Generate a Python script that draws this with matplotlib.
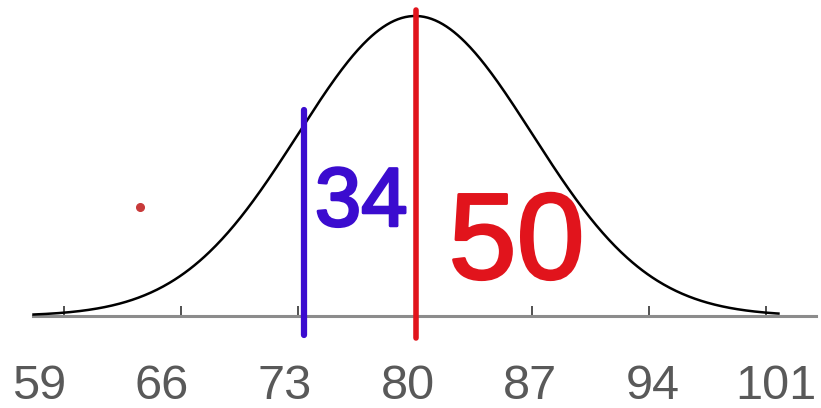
import numpy as np
import matplotlib
matplotlib.use("Agg")
import matplotlib.pyplot as plt
import matplotlib.patheffects as pe

# Normal distribution parameters and the scores marked on the axis
mean = 80
sd = 7
tick_values = [59, 66, 73, 80, 87, 94, 101]
tick_labels = ["59", "66", "73", "80", "87", "94", "101"]

curve_start, curve_end = 57.1, 101.8
axis_start, axis_end = 57.14, 103.97

blue_score = 73.35
blue_span = (-0.0036, 0.0391)
red_score = 80.05
red_span = (-0.0042, 0.0581)

blue_label = "34"
red_label = "50"
dot_point = (63.55, 0.0207)

plt.rcParams["font.family"] = ["Liberation Sans", "DejaVu Sans"]

fig = plt.figure(figsize=(8.21, 4.08), dpi=100)
ax = fig.add_axes([0, 0, 1, 1])
ax.set_xlim(55.17, 104.27)
ax.set_ylim(-0.01748, 0.06003)

# Bell curve
x = np.linspace(curve_start, curve_end, 600)
pdf = np.exp(-0.5 * ((x - mean) / sd) ** 2) / (sd * np.sqrt(2 * np.pi))
ax.plot(x, pdf, color="black", lw=1.8, zorder=3, solid_capstyle="butt")

# Baseline as the bottom spine with inward ticks
for side in ["top", "right", "left"]:
    ax.spines[side].set_visible(False)
ax.spines["bottom"].set_position(("data", 0))
ax.spines["bottom"].set_bounds(axis_start, axis_end)
ax.spines["bottom"].set_color("#8c8c8c")
ax.spines["bottom"].set_linewidth(2.2)
ax.spines["bottom"].set_zorder(2)
ax.set_yticks([])
ax.set_xticks(tick_values)
ax.set_xticklabels([])
ax.tick_params(axis="x", direction="in", length=7, width=1.2, color="#333333")

# Score labels sit on a slightly wider spacing than the tick marks
label_first, label_step = 57.5, 7.347
for i, lab in enumerate(tick_labels):
    ax.text(label_first + i * label_step, -0.0157, lab, fontsize=35,
            color="#595959", ha="center", va="baseline")

# Marker lines
ax.plot([blue_score, blue_score], blue_span, color="#3b0ccf", lw=4.5,
        solid_capstyle="round", zorder=4)
ax.plot([red_score, red_score], red_span, color="#e1141c", lw=4.0,
        solid_capstyle="round", zorder=4)

# Handwritten-style annotations
ax.text(74.0, 0.0213, blue_label, color="#3b0ccf", fontsize=60,
        ha="left", va="center", zorder=5,
        path_effects=[pe.withStroke(linewidth=2, foreground="#3b0ccf")])
ax.text(82.0, 0.0132, red_label, color="#e1141c", fontsize=88,
        ha="left", va="center", zorder=5,
        path_effects=[pe.withStroke(linewidth=2, foreground="#e1141c")])

ax.plot(*dot_point, "o", color="#c83a3a", ms=5.5, zorder=5)

fig.savefig("out.png", dpi=100)
